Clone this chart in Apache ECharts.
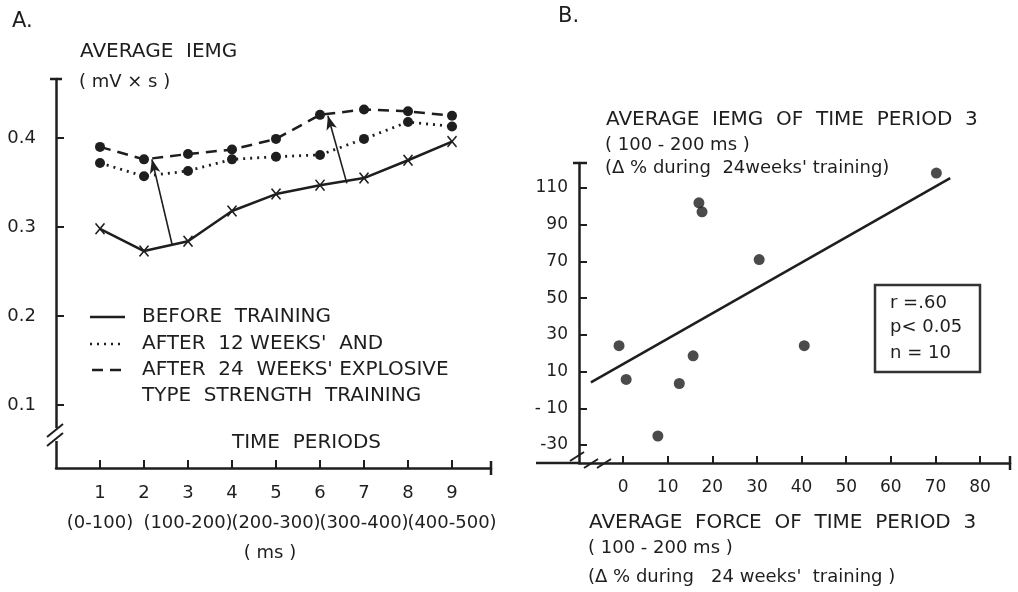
<!DOCTYPE html>
<html><head><meta charset="utf-8">
<script src="https://cdn.jsdelivr.net/npm/echarts@6/dist/echarts.min.js"></script>
<style>html,body{margin:0;padding:0;background:#fff}#c{width:1018px;height:592px}</style>
</head><body><div id="c"></div>
<script>
// ---------- Panel A data ----------
const periods = [1, 2, 3, 4, 5, 6, 7, 8, 9];
const periodLabels = ['1', '2', '3', '4', '5', '6', '7', '8', '9'];
const rangePeriods = [1, 3, 5, 7, 9];
const rangeLabels = ['(0-100)', '(100-200)', '(200-300)', '(300-400)', '(400-500)'];
const beforeTraining = [0.298, 0.273, 0.284, 0.318, 0.337, 0.347, 0.355, 0.375, 0.396];
const after12Weeks   = [0.372, 0.357, 0.363, 0.376, 0.379, 0.381, 0.399, 0.418, 0.413];
const after24Weeks   = [0.390, 0.376, 0.382, 0.387, 0.399, 0.426, 0.432, 0.430, 0.425];
const aYTicks = [0.1, 0.2, 0.3, 0.4];
const aYLabels = ['0.1', '0.2', '0.3', '0.4'];
const arrowStarts = [[2.64, 0.280], [6.61, 0.349]];
const arrowEnds   = [[2.18, 0.376], [6.18, 0.425]];

// ---------- Panel B data ----------
const forceChange = [70.2, 17.0, 17.7, 30.5, -0.9, 0.7, 7.8, 12.6, 15.7, 40.6];
const iemgChange  = [118.1, 101.9, 97.0, 71.0, 24.1, 5.7, -25.1, 3.5, 18.6, 24.1];
const regressionX = [-7.2, 73.3];
const regressionY = [4.1, 115.4];
const bXTicks = [0, 10, 20, 30, 40, 50, 60, 70, 80];
const bXLabels = ['0', '10', '20', '30', '40', '50', '60', '70', '80'];
const bYTicks = [-30, -10, 10, 30, 50, 70, 90, 110];
const bYLabels = ['-30', '- 10', '10', '30', '50', '70', '90', '110'];
const statsLines = ['r =.60', 'p< 0.05', 'n = 10'];

const INK = '#1e1e1e';
const FONT = 'DejaVu Sans';

function lbl(ticks, labels) {
  return v => { const i = ticks.findIndex(t => Math.abs(t - v) < 1e-6); return i < 0 ? '' : labels[i]; };
}

const chart = echarts.init(document.getElementById('c'), null, { renderer: 'canvas' });

const xMarker = 'path://M0,1L1,0L5,4L9,0L10,1L6,5L10,9L9,10L5,6L1,10L0,9L4,5Z';

function txt(x, y, text, size, align) {
  return { type: 'text', z: 100, style: { x: x, y: y, text: text, fill: INK, font: size + 'px "' + FONT + '"',
    textAlign: align || 'left', textVerticalAlign: 'middle' } };
}
function seg(x1, y1, x2, y2, w) {
  return { type: 'line', z: 100, shape: { x1: x1, y1: y1, x2: x2, y2: y2 }, style: { stroke: INK, lineWidth: w || 2.5 } };
}
// range labels split over two label-only axes so neighbouring labels never collide
function rangeAxis(parity) {
  const vals = rangePeriods.filter((v, i) => i % 2 === parity);
  return { type: 'value', gridIndex: 0, min: 0, max: 9.886, position: 'bottom',
    axisLine: { show: false, onZero: false }, axisTick: { show: false },
    axisLabel: { customValues: vals, margin: 45, fontSize: 18, lineHeight: 20, color: INK, fontFamily: FONT,
      hideOverlap: false, showMinLabel: true, showMaxLabel: true, formatter: lbl(rangePeriods, rangeLabels) },
    splitLine: { show: false } };
}

const option = {
  backgroundColor: '#fff',
  animation: false,
  textStyle: { fontFamily: FONT, color: INK },
  grid: [
    { left: 56, top: 79, width: 435, height: 389 },
    { left: 579, top: 163, width: 431, height: 300 }
  ],
  xAxis: [
    { type: 'value', gridIndex: 0, min: 0, max: 9.886,
      axisLine: { onZero: false, lineStyle: { color: INK, width: 2.5 } },
      axisTick: { inside: true, length: 8, customValues: periods, lineStyle: { color: INK, width: 2 } },
      axisLabel: { customValues: periods, margin: 15, fontSize: 18, lineHeight: 20, color: INK, fontFamily: FONT,
        hideOverlap: false, showMinLabel: true, showMaxLabel: true, formatter: lbl(periods, periodLabels) },
      splitLine: { show: false } },
    rangeAxis(0),
    { type: 'value', gridIndex: 1, min: -9.87, max: 86.7,
      axisLine: { onZero: false, lineStyle: { color: INK, width: 2.5 } },
      axisTick: { inside: true, length: 7, customValues: bXTicks, lineStyle: { color: INK, width: 2 } },
      axisLabel: { customValues: bXTicks, margin: 16, fontSize: 17, color: INK, fontFamily: FONT,
        hideOverlap: false, showMinLabel: true, showMaxLabel: true, formatter: lbl(bXTicks, bXLabels) },
      splitLine: { show: false } },
    rangeAxis(1)
  ],
  yAxis: [
    { type: 'value', gridIndex: 0, min: 0.0292, max: 0.4663,
      axisLine: { show: true, onZero: false, lineStyle: { color: INK, width: 2.5 } },
      axisTick: { show: true, inside: true, length: 8, customValues: aYTicks, lineStyle: { color: INK, width: 2 } },
      axisLabel: { customValues: aYTicks, margin: 20, fontSize: 18, color: INK, fontFamily: FONT,
        showMinLabel: true, showMaxLabel: true, formatter: lbl(aYTicks, aYLabels) },
      splitLine: { show: false } },
    { type: 'value', gridIndex: 1, min: -39.8, max: 123.6,
      axisLine: { show: true, onZero: false, lineStyle: { color: INK, width: 2.5 } },
      axisTick: { show: true, inside: true, length: 8, customValues: bYTicks, lineStyle: { color: INK, width: 2 } },
      axisLabel: { customValues: bYTicks, margin: 11, fontSize: 17, color: INK, fontFamily: FONT,
        showMinLabel: true, showMaxLabel: true, formatter: lbl(bYTicks, bYLabels) },
      splitLine: { show: false } }
  ],
  series: [
    { name: 'BEFORE TRAINING', type: 'line', xAxisIndex: 0, yAxisIndex: 0,
      data: periods.map((p, i) => [p, beforeTraining[i]]),
      symbol: xMarker, symbolSize: [10, 12], itemStyle: { color: INK },
      lineStyle: { color: INK, width: 2.5, type: 'solid' },
      markLine: { silent: true, symbol: ['none', 'arrow'], symbolSize: [8, 14],
        label: { show: false }, lineStyle: { color: INK, width: 1.6, type: 'solid' },
        data: arrowStarts.map((s, i) => [{ coord: s }, { coord: arrowEnds[i] }]) } },
    { name: "AFTER 12 WEEKS' AND", type: 'line', xAxisIndex: 0, yAxisIndex: 0,
      data: periods.map((p, i) => [p, after12Weeks[i]]),
      symbol: 'circle', symbolSize: 10, itemStyle: { color: INK },
      lineStyle: { color: INK, width: 2.8, type: [2, 5] } },
    { name: "AFTER 24 WEEKS' EXPLOSIVE", type: 'line', xAxisIndex: 0, yAxisIndex: 0,
      data: periods.map((p, i) => [p, after24Weeks[i]]),
      symbol: 'circle', symbolSize: 10, itemStyle: { color: INK },
      lineStyle: { color: INK, width: 2.5, type: [11, 7] } },
    { name: 'subjects', type: 'scatter', xAxisIndex: 2, yAxisIndex: 1,
      data: forceChange.map((f, i) => [f, iemgChange[i]]),
      symbol: 'circle', symbolSize: 11, itemStyle: { color: INK } },
    { name: 'regression', type: 'line', xAxisIndex: 2, yAxisIndex: 1,
      data: regressionX.map((x, i) => [x, regressionY[i]]),
      symbol: 'none', lineStyle: { color: INK, width: 2.5 } }
  ],
  graphic: [
    // Panel labels
    txt(12, 22, 'A.', 21),
    txt(558, 17, 'B.', 21),
    // Panel A axis titles
    txt(80, 52, 'AVERAGE  IEMG', 20),
    txt(79, 82, '( mV × s )', 18),
    txt(232, 443, 'TIME  PERIODS', 20),
    txt(270, 553, '( ms )', 18, 'center'),
    // Panel A legend
    seg(90, 317, 125, 317, 2.5),
    { type: 'line', z: 100, shape: { x1: 90, y1: 344, x2: 125, y2: 344 }, style: { stroke: INK, lineWidth: 2.5, lineDash: [2, 5] } },
    { type: 'line', z: 100, shape: { x1: 92, y1: 370, x2: 125, y2: 370 }, style: { stroke: INK, lineWidth: 2.5, lineDash: [11, 7] } },
    txt(142, 317, 'BEFORE  TRAINING', 20),
    txt(142, 344, "AFTER  12 WEEKS'  AND", 20),
    txt(142, 370, "AFTER  24  WEEKS' EXPLOSIVE", 20),
    txt(142, 396, 'TYPE  STRENGTH  TRAINING', 20),
    // Panel A axis decorations
    seg(50, 79, 62, 79, 2.5),
    seg(491, 461, 491, 475, 2.5),
    { type: 'rect', z: 99, shape: { x: 50, y: 428, width: 10, height: 13 }, style: { fill: '#fff' } },
    seg(47, 437, 63, 424, 2),
    seg(47, 446, 63, 433, 2),
    // Panel B titles
    txt(606, 120, 'AVERAGE  IEMG  OF  TIME  PERIOD  3', 20),
    txt(605, 145, '( 100 - 200 ms )', 18),
    txt(605, 168, "(Δ % during  24weeks' training)", 18),
    txt(589, 523, 'AVERAGE  FORCE  OF  TIME  PERIOD  3', 20),
    txt(588, 548, '( 100 - 200 ms )', 18),
    txt(588, 577, "(Δ % during   24 weeks'  training )", 18),
    // Panel B stats box
    { type: 'rect', z: 100, shape: { x: 875, y: 285, width: 105, height: 87 }, style: { fill: '#fff', stroke: '#333', lineWidth: 2.5 } },
    txt(890, 303, statsLines[0], 18),
    txt(890, 327, statsLines[1], 18),
    txt(890, 353, statsLines[2], 18),
    // Panel B axis decorations
    seg(573, 163, 587, 163, 2.5),
    seg(536, 463, 579, 463, 2.5),
    seg(1010, 456, 1010, 470, 2.5),
    seg(570, 461, 584, 452, 2),
    seg(584, 468, 598, 459, 2),
    seg(597, 468, 611, 459, 2)
  ]
};
chart.setOption(option);
</script>
</body></html>
